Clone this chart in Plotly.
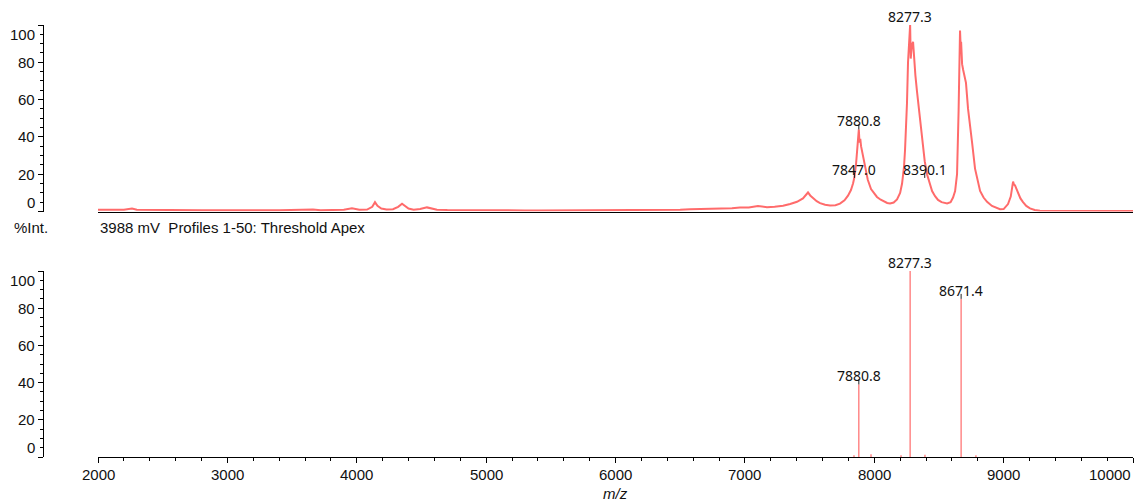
import plotly.graph_objects as go

# ---- profile spectrum (m/z, relative intensity %) ----
profile_mz = [
    2000, 2050, 2100, 2150, 2200, 2263, 2300, 2400, 2500, 2600, 2700, 2800, 2900,
    3000, 3100, 3200, 3300, 3400, 3500, 3600, 3662, 3720, 3800, 3900, 3963, 4020,
    4080, 4120, 4141, 4160, 4190, 4230, 4280, 4320, 4350, 4370, 4400, 4440, 4490,
    4543, 4570, 4620, 4700, 4800, 4900, 5000, 5100, 5200, 5300, 5400, 5500, 5600,
    5700, 5800, 5900, 6000, 6100, 6200, 6300, 6400, 6500, 6576, 6650, 6700, 6785,
    6850, 6900, 6962, 7030, 7101, 7140, 7171, 7230, 7295, 7350, 7403, 7449, 7470,
    7488, 7505, 7527, 7555, 7581, 7620, 7658, 7700, 7735, 7770, 7797, 7820, 7836,
    7847, 7860, 7870, 7880.8, 7886, 7892, 7898, 7910, 7929, 7950, 7975, 8000, 8021,
    8050, 8077, 8100, 8122, 8150, 8176, 8200, 8215, 8230, 8238, 8247, 8253, 8261,
    8270, 8277.3, 8282, 8290, 8300, 8307, 8318, 8331, 8354, 8377, 8390.1, 8408, 8430,
    8447, 8470, 8493, 8520, 8563, 8590, 8609, 8625, 8640, 8652, 8663, 8667, 8671.4,
    8679, 8687, 8694, 8709, 8725, 8740, 8756, 8779, 8800, 8818, 8845, 8872, 8910,
    8949, 8972, 9000, 9034, 9055, 9065, 9073, 9080, 9088, 9100, 9111, 9130, 9150,
    9175, 9204, 9240, 9281, 9400, 9600, 9800, 10000,
]
profile_int = [
    1.0, 0.9, 1.0, 0.9, 1.0, 1.6, 0.9, 0.8, 0.8, 0.7, 0.8, 0.7, 0.7,
    0.8, 0.7, 0.7, 0.7, 0.7, 0.8, 0.7, 1.1, 0.7, 0.8, 0.9, 1.7, 0.9,
    1.0, 2.5, 5.0, 3.0, 1.6, 1.1, 1.2, 2.5, 4.2, 3.0, 1.6, 1.0, 1.3,
    2.2, 1.8, 1.0, 0.8, 0.7, 0.6, 0.6, 0.6, 0.6, 0.6, 0.6, 0.6, 0.6,
    0.6, 0.6, 0.6, 0.6, 0.6, 0.6, 0.7, 0.8, 0.9, 1.2, 1.3, 1.5, 1.6,
    1.5, 1.8, 2.1, 2.2, 3.0, 2.6, 2.3, 2.6, 3.1, 4.0, 5.2, 7.0, 8.5,
    10.2, 8.6, 7.0, 5.5, 4.5, 3.6, 3.2, 3.4, 4.2, 6.0, 8.5, 11.5, 15.0,
    18.5, 26, 36, 44, 37, 39, 35, 31, 24, 17, 12, 9.5, 7.8,
    6.3, 5.2, 4.6, 4.3, 4.8, 6.5, 10, 15, 24, 33, 46, 58, 80,
    94, 100, 82, 89, 91, 83, 73, 64, 49, 36, 27, 20, 14,
    11, 8.2, 6.2, 5.0, 4.3, 5.0, 7.5, 11, 20, 54, 97, 90, 91,
    79, 76, 74, 69, 55, 45, 37, 23, 15.5, 11, 7.5, 5.2, 3.0,
    1.7, 1.2, 1.3, 4, 8, 12, 16, 14.5, 14, 12, 10, 7, 5,
    3, 1.7, 0.8, 0.4, 0.3, 0.3, 0.3, 0.3,
]

# ---- labelled profile peaks (m/z, label height %) ----
profile_label_mz = [7880.8, 7847.0, 8277.3, 8390.1]
profile_label_y = [44, 18, 100, 18]

# ---- centroid peak list (Threshold Apex) ----
centroid_mz = [7843.5, 7880.8, 7975.0, 8207.0, 8277.3, 8392.0, 8671.4, 8786.0]
centroid_int = [1.0, 39, 1.5, 1.0, 100, 1.2, 85, 1.0]
centroid_labelled = [7880.8, 8277.3, 8671.4]

y_ticks = [0, 20, 40, 60, 80, 100]
x_ticks = [2000, 3000, 4000, 5000, 6000, 7000, 8000, 9000, 10000]

RED = "#FF6B6B"
TICK_FONT = dict(family="Liberation Sans, Arial, sans-serif", size=15, color="#111111")
PEAK_FONT = dict(family="Noto Sans, Open Sans, sans-serif", size=14, color="#111111")

W, H = 1139, 504
ML, MR, MT, MB = 43, 6, 25, 47
plot_w = W - ML - MR
plot_h = H - MT - MB
x_dom0 = 55 / plot_w
top_dom = [(plot_h - (211.5 - MT)) / plot_h, 1.0]
bot_dom = [0.0, (plot_h - (271 - MT)) / plot_h]

fig = go.Figure()

fig.add_trace(go.Scatter(
    x=profile_mz, y=profile_int, mode="lines",
    line=dict(color=RED, width=2),
    xaxis="x", yaxis="y", hoverinfo="skip", showlegend=False,
))

# centroid sticks drawn as vertical segments from the baseline
stick_x, stick_y = [], []
for m, v in zip(centroid_mz, centroid_int):
    stick_x += [m, m, None]
    stick_y += [0, v, None]
fig.add_trace(go.Scatter(
    x=stick_x, y=stick_y, mode="lines",
    line=dict(color=RED, width=1.2),
    xaxis="x2", yaxis="y2", hoverinfo="skip", showlegend=False,
))

axis_common = dict(showgrid=False, zeroline=False, showline=True,
                   linecolor="black", linewidth=1, showticklabels=False)
y_common = dict(axis_common, range=[0, 100], tick0=0, dtick=20,
                ticks="outside", ticklen=5, tickcolor="black", tickwidth=1,
                minor=dict(dtick=5, ticks="outside", ticklen=3, tickcolor="black"),
                anchor="free", position=0)

fig.update_layout(
    width=W, height=H,
    margin=dict(l=ML, r=MR, t=MT, b=MB),
    paper_bgcolor="white", plot_bgcolor="white",
    xaxis=dict(axis_common, domain=[x_dom0, 1], range=[2000, 10000],
               anchor="y", ticks=""),
    xaxis2=dict(axis_common, domain=[x_dom0, 1], range=[2000, 10000],
                anchor="y2", tick0=2000, dtick=1000, ticks="outside",
                ticklen=5, tickcolor="black",
                minor=dict(dtick=200, ticks="outside", ticklen=3, tickcolor="black")),
    yaxis=dict(y_common, domain=top_dom),
    yaxis2=dict(y_common, domain=bot_dom),
)

ann = []
# y tick labels for both panels
for yref in ("y", "y2"):
    for v in y_ticks:
        if v == 0:
            ya, ys = "bottom", -1
        elif v == 100:
            ya, ys = "top", 1
        else:
            ya, ys = "middle", 0
        ann.append(dict(xref="paper", yref=yref, x=0, y=v, text=str(v),
                        xanchor="right", yanchor=ya, xshift=-6, yshift=ys,
                        showarrow=False, font=TICK_FONT))

# x tick labels
for v in x_ticks:
    ann.append(dict(xref="x2", yref="paper", x=v, y=0, text=str(v),
                    xanchor="right" if v == x_ticks[-1] else "center",
                    yanchor="top", yshift=-7, showarrow=False, font=TICK_FONT))

ann.append(dict(xref="paper", yref="paper", x=(x_dom0 + 1) / 2, y=0,
                text="<i>m/z</i>", xanchor="center", yanchor="top", yshift=-26,
                showarrow=False, font=TICK_FONT))

# panel caption row
cap_y = (plot_h - (227 - MT)) / plot_h
ann.append(dict(xref="paper", yref="paper", x=0, y=cap_y, text="%Int.",
                xanchor="right", yanchor="middle", xshift=7, showarrow=False,
                font=TICK_FONT))
ann.append(dict(xref="paper", yref="paper", x=x_dom0, y=cap_y,
                text="3988 mV  Profiles 1-50: Threshold Apex",
                xanchor="left", yanchor="middle", showarrow=False, font=TICK_FONT))

# peak labels with a short marker under each label
shapes = []
labels = [("x", "y", m, v) for m, v in zip(profile_label_mz, profile_label_y)]
labels += [("x2", "y2", m, v) for m, v in zip(centroid_mz, centroid_int)
           if m in centroid_labelled]
for xr, yr, m, v in labels:
    ann.append(dict(xref=xr, yref=yr, x=m, y=v, text=f"{m:.1f}",
                    xanchor="center", yanchor="bottom", yshift=-3,
                    showarrow=False, font=PEAK_FONT))
    shapes.append(dict(type="line", xref=xr, yref=yr, ysizemode="pixel",
                       yanchor=v, x0=m, x1=m, y0=0, y1=5,
                       line=dict(color="#222222", width=1)))

fig.update_layout(annotations=ann, shapes=shapes)
fig.write_html("out.html")
